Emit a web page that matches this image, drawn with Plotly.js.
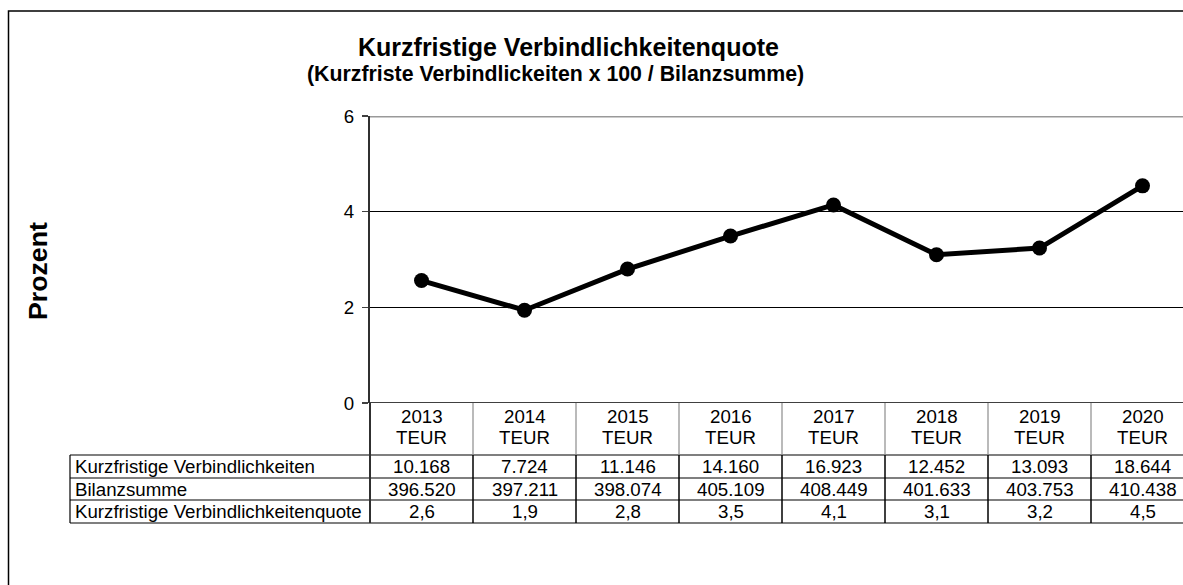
<!DOCTYPE html>
<html>
<head>
<meta charset="utf-8">
<script src="https://cdn.plot.ly/plotly-3.0.1.min.js"></script>
<style>
html,body{margin:0;padding:0;background:#fff;overflow:hidden;}
#chart{width:1183px;height:585px;}
</style>
</head>
<body>
<div id="chart"></div>
<script>
// ---- data ----
var years = ["2013","2014","2015","2016","2017","2018","2019","2020"];
var unitLabel = "TEUR";
var kurzfristig = [10168, 7724, 11146, 14160, 16923, 12452, 13093, 18644];
var bilanzsumme = [396520, 397211, 398074, 405109, 408449, 401633, 403753, 410438];
var quote = [2.56, 1.94, 2.80, 3.49, 4.14, 3.10, 3.24, 4.54];
var quoteTable = [2.6, 1.9, 2.8, 3.5, 4.1, 3.1, 3.2, 4.5];
var rowLabels = ["Kurzfristige Verbindlichkeiten", "Bilanzsumme", "Kurzfristige Verbindlichkeitenquote"];
var titleText = "Kurzfristige Verbindlichkeitenquote";
var subtitleText = "(Kurzfriste Verbindlickeiten x 100 / Bilanzsumme)";
var yTitle = "Prozent";

// ---- helpers ----
var FONT = "Liberation Sans, Arial, sans-serif";
function fmtThousands(n){
  var s = String(Math.round(n));
  return s.replace(/\B(?=(\d{3})+(?!\d))/g, ".");
}
function fmtDec(n){ return n.toFixed(1).replace(".", ","); }

// pixel layout helpers (plot area: x 370..1183, y 116..403)
var W = 1183, H = 585, L = 370, T = 116, B = 182;
var plotH = H - T - B, plotW = W - L;
function py(p){ return (H - B - p) / plotH; }   // pixel y -> paper y
function px(p){ return (p - L) / plotW; }        // pixel x -> paper x

var xIdx = years.map(function(_, i){ return i; });

var trace = {
  x: xIdx, y: quote, type: "scatter", mode: "lines+markers",
  line: {color: "#000", width: 5},
  marker: {color: "#000", size: 15},
  hoverinfo: "skip", cliponaxis: false
};

var shapes = [];
var annotations = [];

// outer frame
shapes.push({type:"rect", xref:"paper", yref:"paper", x0:px(8.5), x1:1.2, y0:py(11), y1:py(700),
  line:{color:"#000", width:1.5}, fillcolor:"rgba(0,0,0,0)", layer:"below"});

// top line at 6 (gray) and bottom at 0
shapes.push({type:"line", xref:"paper", yref:"y", x0:0, x1:1.2, y0:6, y1:6, line:{color:"#999999", width:3}});
shapes.push({type:"line", xref:"paper", yref:"y", x0:0, x1:1.2, y0:0, y1:0, line:{color:"#404040", width:2}});

// table rows
var rowTopPx = [455, 478, 500, 523];
var yearCenterPx = 416.5;
var unitCenterPx = 437;
var rowCenterPx = [466.5, 489, 511.5];

// horizontal table lines
rowTopPx.forEach(function(p){
  shapes.push({type:"line", xref:"paper", yref:"paper", x0:px(70), x1:1.2, y0:py(p), y1:py(p), line:{color:"#000", width:1.2}});
});
// label column left border
shapes.push({type:"line", xref:"paper", yref:"paper", x0:px(70), x1:px(70), y0:py(455), y1:py(523), line:{color:"#000", width:1.2}});
// axis line extended through table
shapes.push({type:"line", xref:"paper", yref:"paper", x0:0, x1:0, y0:py(403), y1:py(523), line:{color:"#303030", width:2}});
// column separators
for (var k = 0; k < years.length; k++) {
  var xb = k + 0.5;
  shapes.push({type:"line", xref:"x", yref:"paper", x0:xb, x1:xb, y0:py(403), y1:py(455), line:{color:"#8c8c8c", width:1.2}});
  shapes.push({type:"line", xref:"x", yref:"paper", x0:xb, x1:xb, y0:py(455), y1:py(523), line:{color:"#000", width:1.5}});
}

// header and cell texts
var cellFont = {family: FONT, size: 18.7, color: "#000"};
years.forEach(function(yr, i){
  annotations.push({xref:"x", yref:"paper", x:i, y:py(yearCenterPx), text: yr,
    showarrow:false, font:cellFont, xanchor:"center", yanchor:"middle"});
  annotations.push({xref:"x", yref:"paper", x:i, y:py(unitCenterPx), text: unitLabel,
    showarrow:false, font:cellFont, xanchor:"center", yanchor:"middle"});
  annotations.push({xref:"x", yref:"paper", x:i, y:py(rowCenterPx[0]), text: fmtThousands(kurzfristig[i]),
    showarrow:false, font:cellFont, xanchor:"center", yanchor:"middle"});
  annotations.push({xref:"x", yref:"paper", x:i, y:py(rowCenterPx[1]), text: fmtThousands(bilanzsumme[i]),
    showarrow:false, font:cellFont, xanchor:"center", yanchor:"middle"});
  annotations.push({xref:"x", yref:"paper", x:i, y:py(rowCenterPx[2]), text: fmtDec(quoteTable[i]),
    showarrow:false, font:cellFont, xanchor:"center", yanchor:"middle"});
});
rowLabels.forEach(function(lbl, r){
  annotations.push({xref:"paper", yref:"paper", x:px(73), y:py(rowCenterPx[r]), text: lbl,
    showarrow:false, font:cellFont, xanchor:"left", yanchor:"middle"});
});

// titles
annotations.push({xref:"paper", yref:"paper", x:px(568), y:py(47), text:"<b>"+titleText+"</b>",
  showarrow:false, font:{family:FONT, size:25, color:"#000"}, xanchor:"center", yanchor:"middle"});
annotations.push({xref:"paper", yref:"paper", x:px(555), y:py(74), text:"<b>"+subtitleText+"</b>",
  showarrow:false, font:{family:FONT, size:21.3, color:"#000"}, xanchor:"center", yanchor:"middle"});
annotations.push({xref:"paper", yref:"paper", x:px(38), y:py(271), text:"<b>"+yTitle+"</b>", textangle:-90,
  showarrow:false, font:{family:FONT, size:26.7, color:"#000"}, xanchor:"center", yanchor:"middle"});

var layout = {
  width: W, height: H,
  margin: {l: L, r: 0, t: T, b: B, pad: 0},
  paper_bgcolor: "#fff", plot_bgcolor: "#fff",
  showlegend: false,
  xaxis: {range: [-0.5, -0.5 + plotW / 103], showticklabels: false, showgrid: false, zeroline: false,
    showline: false, ticks: "", fixedrange: true},
  yaxis: {range: [0, 6], tickvals: [0, 2, 4, 6], ticktext: ["0","2","4","6"], ticks: "outside", ticklen: 6,
    tickwidth: 1.2, tickcolor: "#404040", showline: true, linecolor: "#303030", linewidth: 2,
    showgrid: true, gridcolor: "#000", gridwidth: 1, zeroline: false, fixedrange: true,
    tickfont: {family: FONT, size: 18.7, color: "#000"}, ticklabelstandoff: 4},
  shapes: shapes,
  annotations: annotations
};

Plotly.newPlot("chart", [trace], layout, {staticPlot: true, displayModeBar: false});
</script>
</body>
</html>
